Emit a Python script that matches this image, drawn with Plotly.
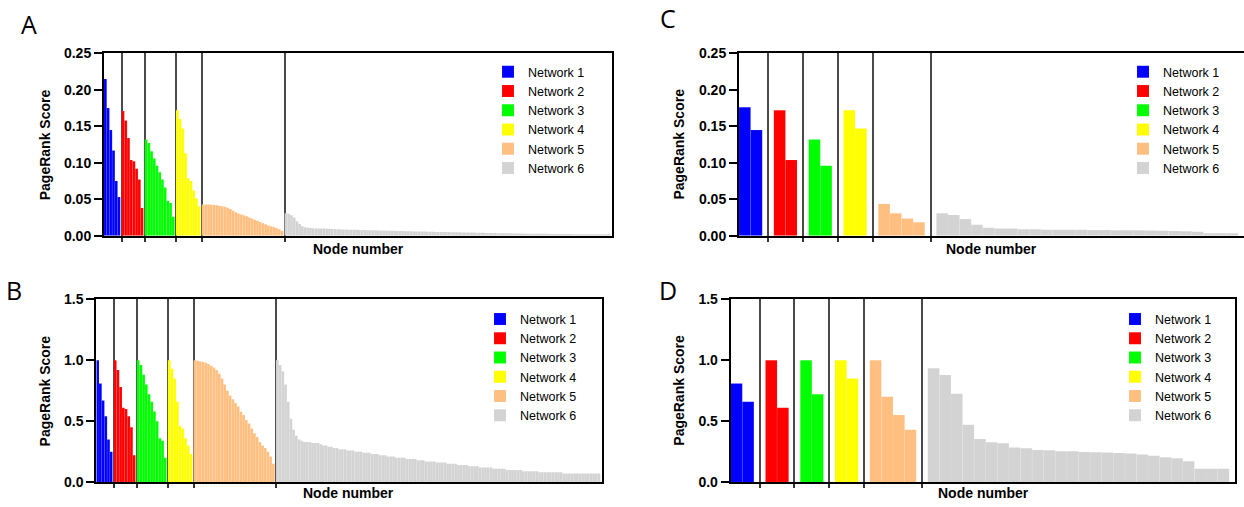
import plotly.graph_objects as go

# ---------------- data ----------------
networks = ["Network 1", "Network 2", "Network 3", "Network 4", "Network 5", "Network 6"]
colors = ["#0000FF", "#FF0000", "#00FF00", "#FFFF00", "#FFBF80", "#D3D3D3"]

# Panel A: PageRank score, all nodes
a_n1 = [0.215, 0.175, 0.145, 0.117, 0.075, 0.053]
a_n2 = [0.171, 0.158, 0.134, 0.104, 0.102, 0.092, 0.077, 0.038]
a_n3 = [0.132, 0.127, 0.116, 0.106, 0.096, 0.087, 0.077, 0.066, 0.048, 0.045, 0.026]
a_n4 = [0.172, 0.160, 0.147, 0.113, 0.079, 0.075, 0.062, 0.051, 0.040]
a_n5 = [0.0430, 0.0429, 0.0427, 0.0425, 0.0422, 0.0417, 0.0411, 0.0404, 0.0396, 0.0383,
        0.0366, 0.0344, 0.0323, 0.0305, 0.0292, 0.0280, 0.0267, 0.0249, 0.0237, 0.0219,
        0.0206, 0.0189, 0.0172, 0.0159, 0.0142, 0.0129, 0.0120, 0.0108, 0.0090, 0.0065]
a_n6 = [0.031, 0.030, 0.028, 0.025, 0.020, 0.016, 0.013, 0.0118, 0.0109, 0.0105,
        0.0102, 0.0101, 0.0100, 0.0099, 0.0098, 0.0097, 0.0095, 0.0093, 0.0092, 0.0090,
        0.0089, 0.0087, 0.0086, 0.0084, 0.0083, 0.0082, 0.0081, 0.0080, 0.0079, 0.0078,
        0.0077, 0.0076, 0.0075, 0.0074, 0.0073, 0.0072, 0.0071, 0.0070, 0.0069, 0.0068,
        0.0067, 0.0066, 0.0065, 0.0064, 0.0063, 0.0062, 0.0061, 0.0060, 0.0059, 0.0058,
        0.0058, 0.0057, 0.0056, 0.0055, 0.0054, 0.0053, 0.0053, 0.0052, 0.0051, 0.0050,
        0.0050, 0.0049, 0.0048, 0.0047, 0.0047, 0.0046, 0.0045, 0.0044, 0.0043, 0.0043,
        0.0042, 0.0041, 0.0040, 0.0040, 0.0039, 0.0038, 0.0037, 0.0037, 0.0036, 0.0035,
        0.0035, 0.0034, 0.0033, 0.0033, 0.0032, 0.0031, 0.0031, 0.0030, 0.0030, 0.0029,
        0.0029, 0.0028, 0.0028, 0.0027, 0.0027, 0.0026, 0.0026, 0.0025, 0.0025, 0.0025,
        0.0024, 0.0024, 0.0024, 0.0023, 0.0023, 0.0023, 0.0022, 0.0022, 0.0022, 0.0022,
        0.0021, 0.0021, 0.0021, 0.0021, 0.0020, 0.0020, 0.0020, 0.0020, 0.0020, 0.0020]

# Panel B: normalised PageRank score, all nodes
b_n1 = [1.00, 0.81, 0.67, 0.54, 0.35, 0.25]
b_n2 = [1.00, 0.92, 0.78, 0.61, 0.60, 0.54, 0.45, 0.22]
b_n3 = [1.00, 0.96, 0.88, 0.80, 0.72, 0.66, 0.58, 0.50, 0.36, 0.34, 0.20]
b_n4 = [1.00, 0.93, 0.85, 0.66, 0.46, 0.44, 0.36, 0.30, 0.23]
b_n5 = [1.00, 0.995, 0.99, 0.985, 0.98, 0.97, 0.955, 0.94, 0.92, 0.89,
        0.85, 0.80, 0.75, 0.71, 0.68, 0.65, 0.62, 0.58, 0.55, 0.51,
        0.48, 0.44, 0.40, 0.37, 0.33, 0.30, 0.28, 0.25, 0.21, 0.15]
b_n6 = [1.00, 0.96, 0.91, 0.80, 0.66, 0.52, 0.43, 0.38, 0.35, 0.34,
        0.33, 0.33, 0.33, 0.32, 0.32, 0.32, 0.31, 0.30, 0.30, 0.29,
        0.29, 0.28, 0.28, 0.27, 0.27, 0.27, 0.26, 0.26, 0.26, 0.25,
        0.25, 0.25, 0.24, 0.24, 0.24, 0.23, 0.23, 0.23, 0.22, 0.22,
        0.22, 0.21, 0.21, 0.21, 0.20, 0.20, 0.20, 0.20, 0.19, 0.19,
        0.19, 0.19, 0.18, 0.18, 0.18, 0.17, 0.17, 0.17, 0.17, 0.16,
        0.16, 0.16, 0.16, 0.15, 0.15, 0.15, 0.15, 0.14, 0.14, 0.14,
        0.14, 0.13, 0.13, 0.13, 0.13, 0.12, 0.12, 0.12, 0.12, 0.12,
        0.11, 0.11, 0.11, 0.11, 0.11, 0.10, 0.10, 0.10, 0.10, 0.10,
        0.10, 0.09, 0.09, 0.09, 0.09, 0.09, 0.09, 0.08, 0.08, 0.08,
        0.08, 0.08, 0.08, 0.08, 0.08, 0.08, 0.07, 0.07, 0.07, 0.07,
        0.07, 0.07, 0.07, 0.07, 0.07, 0.07, 0.07, 0.07, 0.07, 0.07]

# Panel C: PageRank score, selected nodes
c_n1 = [0.176, 0.145]
c_n2 = [0.172, 0.104]
c_n3 = [0.132, 0.096]
c_n4 = [0.172, 0.147]
c_n5 = [0.0436, 0.0309, 0.0236, 0.0186]
c_n6 = [0.031, 0.0286, 0.023, 0.015, 0.011, 0.0100, 0.0098, 0.0090, 0.0088, 0.0084,
        0.0083, 0.0081, 0.0081, 0.0079, 0.0078, 0.0077, 0.0076, 0.0075, 0.0072, 0.0069,
        0.0065, 0.0062, 0.0054, 0.0034, 0.0034, 0.0034]

# Panel D: normalised PageRank score, selected nodes
d_n1 = [0.81, 0.66]
d_n2 = [1.00, 0.61]
d_n3 = [1.00, 0.72]
d_n4 = [1.00, 0.85]
d_n5 = [1.00, 0.70, 0.55, 0.43]
d_n6 = [0.935, 0.878, 0.726, 0.47, 0.353, 0.326, 0.318, 0.283, 0.277, 0.264,
        0.261, 0.253, 0.253, 0.247, 0.245, 0.242, 0.239, 0.234, 0.226, 0.217,
        0.204, 0.196, 0.171, 0.109, 0.109, 0.109]

a_ticks = [0.00, 0.05, 0.10, 0.15, 0.20, 0.25]
b_ticks = [0.0, 0.5, 1.0, 1.5]

# ---------------- layout helpers ----------------
W, H = 1244, 507
# the captured picture maps page rows y -> 6.0 + 0.975*y; positions below are
# target picture pixels, converted back to page coordinates
Y_OFF, Y_SCALE = 6.0, 0.975


def px(x):
    return x / W


def py(y):
    return 1 - ((y - Y_OFF) / Y_SCALE) / H


def place(groups, pad_l, pad_r):
    xs, seps = [], []
    cur = 0.0
    for k, vals in enumerate(groups):
        if k > 0:
            seps.append(cur)
        pl = 0.0 if k == 0 else pad_l
        start = cur + pl + 0.5
        xs.append([start + i for i in range(len(vals))])
        cur = cur + pl + len(vals) + pad_r
    return xs, seps, cur


panels = [
    dict(key="A", groups=[a_n1, a_n2, a_n3, a_n4, a_n5, a_n6], pads=(0.0, 0.5),
         xdom=(104, 612), ydom=(51.7, 235.3), ticks=a_ticks, fmt=".2f", mirror_y=True,
         legend=dict(x=488, y=55.5), ytitle=(44.7, 143.5), xtitle=(358, 249), letter=(29, 22)),
    dict(key="B", groups=[b_n1, b_n2, b_n3, b_n4, b_n5, b_n6], pads=(0.0, 0.5),
         xdom=(96.3, 601.7), ydom=(299.3, 483.3), ticks=b_ticks, fmt=".1f", mirror_y=True,
         legend=dict(x=480, y=304.5), ytitle=(44.7, 391.3), xtitle=(349, 494.5), letter=(14, 290)),
    dict(key="C", groups=[c_n1, c_n2, c_n3, c_n4, c_n5, c_n6], pads=(0.5, 0.5),
         xdom=(739, 1244), ydom=(51.7, 235.3), ticks=a_ticks, fmt=".2f", mirror_y=False,
         legend=dict(x=1123, y=55.5), ytitle=(679, 143.5), xtitle=(991.5, 249), letter=(667.5, 16)),
    dict(key="D", groups=[d_n1, d_n2, d_n3, d_n4, d_n5, d_n6], pads=(0.5, 0.5),
         xdom=(730.7, 1235), ydom=(299.3, 483.3), ticks=b_ticks, fmt=".1f", mirror_y=True,
         legend=dict(x=1115, y=304.5), ytitle=(679, 391.3), xtitle=(983, 494.5), letter=(668, 290)),
]

FONT = "Liberation Sans, Arial, sans-serif"
fig = go.Figure()
layout = dict(
    width=W, height=H, margin=dict(l=0, r=0, t=0, b=0),
    paper_bgcolor="white", plot_bgcolor="white",
    barmode="overlay", annotations=[],
)

for idx, p in enumerate(panels):
    n = idx + 1
    sfx = "" if n == 1 else str(n)
    xs, seps, total = place(p["groups"], *p["pads"])
    leg_id = "legend" if n == 1 else f"legend{n}"
    for k, vals in enumerate(p["groups"]):
        fig.add_trace(go.Bar(
            x=xs[k], y=vals, width=1.0, name=networks[k],
            marker=dict(color=colors[k], line=dict(color="rgba(255,255,255,0.18)", width=0.4)),
            xaxis="x" + sfx, yaxis="y" + sfx, legend=leg_id, showlegend=True,
        ))
    layout["xaxis" + sfx] = dict(
        domain=[px(p["xdom"][0]), px(p["xdom"][1])], anchor="y" + sfx,
        range=[0, total], showline=True, linecolor="black", linewidth=2, mirror=True,
        tickmode="array", tickvals=seps, ticks="outside", ticklen=4, tickwidth=1.5,
        tickcolor="#333333", showticklabels=False,
        showgrid=True, gridcolor="#4a4a4a", gridwidth=1.5, zeroline=False,
    )
    ymax = p["ticks"][-1]
    layout["yaxis" + sfx] = dict(
        domain=[py(p["ydom"][1]), py(p["ydom"][0])], anchor="x" + sfx,
        range=[0, ymax], showline=True, linecolor="black", linewidth=2,
        mirror=p["mirror_y"], tickmode="array", tickvals=p["ticks"], tickformat=p["fmt"],
        ticks="outside", ticklen=8, tickwidth=2, tickcolor="black",
        tickfont=dict(family=FONT, size=14, color="black", weight="bold"),
        showgrid=False, zeroline=False,
    )
    layout[leg_id] = dict(
        x=px(p["legend"]["x"]), y=py(p["legend"]["y"]), xanchor="left", yanchor="top",
        bgcolor="rgba(0,0,0,0)", borderwidth=0,
        font=dict(family=FONT, size=12.5, color="black"),
        traceorder="normal", tracegroupgap=0,
    )
    layout["annotations"] += [
        dict(text="PageRank Score", x=px(p["ytitle"][0]), y=py(p["ytitle"][1]),
             xref="paper", yref="paper", textangle=-90, showarrow=False,
             xanchor="center", yanchor="middle",
             font=dict(family=FONT, size=14, color="black", weight="bold")),
        dict(text="Node number", x=px(p["xtitle"][0]), y=py(p["xtitle"][1]),
             xref="paper", yref="paper", showarrow=False,
             xanchor="center", yanchor="middle",
             font=dict(family=FONT, size=14, color="black", weight="bold")),
        dict(text=p["key"], x=px(p["letter"][0]), y=py(p["letter"][1]),
             xref="paper", yref="paper", showarrow=False,
             xanchor="center", yanchor="middle",
             font=dict(family="Open Sans, Liberation Sans, sans-serif", size=25, color="black")),
    ]

fig.update_layout(**layout)
fig.write_html("out.html")
